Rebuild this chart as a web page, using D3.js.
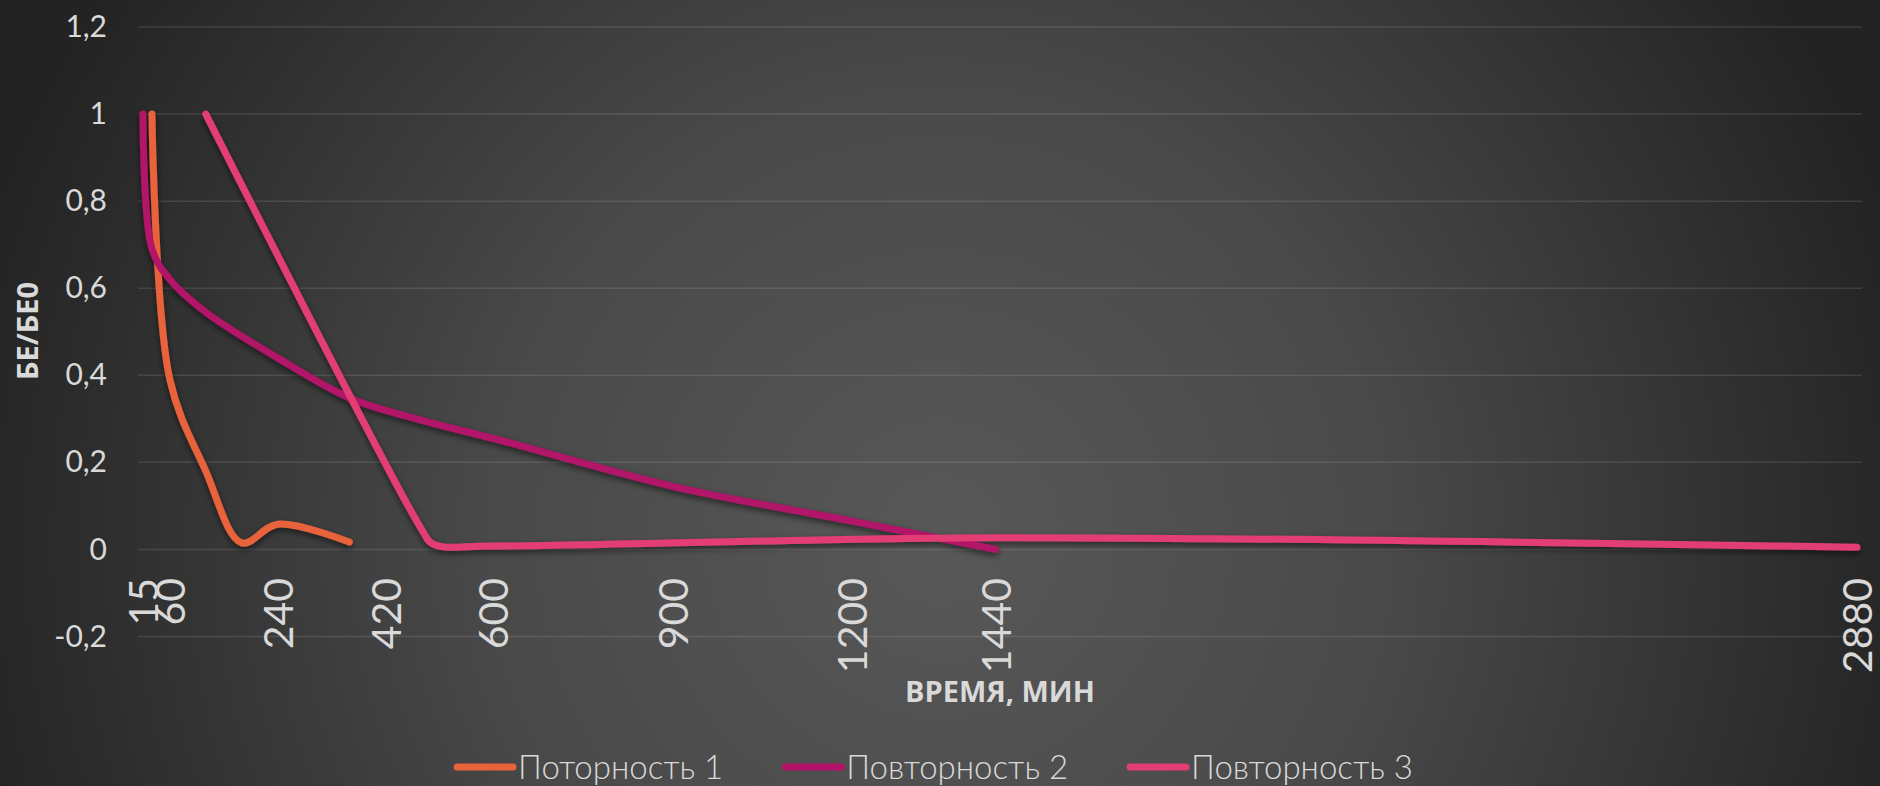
<!DOCTYPE html>
<html>
<head>
<meta charset="utf-8">
<script src="https://cdn.jsdelivr.net/npm/d3@7"></script>
<style>
  html, body { margin: 0; padding: 0; background: #2a2a2a; }
  svg { display: block; }
</style>
</head>
<body>
<svg id="chart" width="1880" height="786"></svg>
<script>
// chart data
var xTicks = [15, 60, 240, 420, 600, 900, 1200, 1440, 2880];
var yTicks = [-0.2, 0, 0.2, 0.4, 0.6, 0.8, 1, 1.2];

var seriesNames = ["Поторность 1", "Повторность 2", "Повторность 3"];
var seriesColors = ["#E8633B", "#B21268", "#E33E74"];

var rep1Time = [30, 60, 120, 180, 240, 360];
var rep1Value = [1, 0.39, 0.18, 0.015, 0.058, 0.017];

var rep2Time = [15, 30, 60, 120, 240, 360, 480, 600, 900, 1200, 1440];
var rep2Value = [1, 0.69, 0.62, 0.545, 0.44, 0.348, 0.297, 0.255, 0.145, 0.065, 0];

var rep3Time = [120, 480, 500, 600, 1440, 2880];
var rep3Value = [1, 0.048, 0.012, 0.008, 0.027, 0.005];

var xTitle = "ВРЕМЯ, МИН";
var yTitle = "БЕ/БЕ0";

drawChart();

function drawChart() {
  var svg = d3.select("#chart");
  var width = 1880, height = 786;
  var lightFont = "Lato, 'Open Sans', sans-serif";
  var boldFont = "'Open Sans', sans-serif";
  var textColor = "#d9d9d9";

  var defs = svg.append("defs");
  var grad = defs.append("radialGradient")
      .attr("id", "bg")
      .attr("gradientUnits", "userSpaceOnUse")
      .attr("cx", 940).attr("cy", 540).attr("r", 1000);
  grad.append("stop").attr("offset", "0").attr("stop-color", "#585858");
  grad.append("stop").attr("offset", "0.45").attr("stop-color", "#494949");
  grad.append("stop").attr("offset", "1").attr("stop-color", "#232323");

  var shadow = defs.append("filter").attr("id", "shadow")
      .attr("x", "-5%").attr("y", "-5%").attr("width", "110%").attr("height", "120%");
  shadow.append("feDropShadow")
      .attr("dx", 0).attr("dy", 3).attr("stdDeviation", 3)
      .attr("flood-color", "#000").attr("flood-opacity", 0.55);

  svg.append("rect").attr("width", width).attr("height", height).attr("fill", "url(#bg)");

  var xScale = d3.scaleLinear().domain([0, 2880]).range([134, 1857]);
  var yScale = d3.scaleLinear().domain([-0.2, 1.2]).range([636.5, 27]);
  var gridLeft = 138, gridRight = 1862;

  // horizontal gridlines
  svg.append("g").selectAll("line")
      .data(yTicks)
      .enter().append("line")
      .attr("x1", gridLeft).attr("x2", gridRight)
      .attr("y1", d => yScale(d)).attr("y2", d => yScale(d))
      .attr("stroke", "rgba(255,255,255,0.11)")
      .attr("stroke-width", 1.5);

  // y axis labels
  var yAxis = d3.axisLeft(yScale)
      .tickValues(yTicks)
      .tickSize(0)
      .tickPadding(0)
      .tickFormat(d => String(Math.round(d * 10) / 10).replace(".", ","));
  var yg = svg.append("g")
      .attr("transform", "translate(107,0)")
      .call(yAxis);
  yg.select(".domain").remove();
  yg.selectAll("text")
      .attr("fill", textColor)
      .style("font-family", lightFont)
      .style("font-weight", 400)
      .style("font-size", "30px");

  // x axis labels (rotated)
  var xAxis = d3.axisBottom(xScale)
      .tickValues(xTicks)
      .tickSize(0)
      .tickFormat(d => String(d));
  var xg = svg.append("g")
      .attr("transform", "translate(0,578)")
      .call(xAxis);
  xg.select(".domain").remove();
  xg.selectAll("text")
      .attr("transform", "rotate(-90)")
      .attr("x", 0).attr("y", 0)
      .attr("dy", "0.36em")
      .style("text-anchor", "end")
      .attr("fill", textColor)
      .style("font-family", lightFont)
      .style("font-weight", 400)
      .style("font-size", "41px");

  // lines
  var allSeries = [
    rep1Time.map((t, i) => [t, rep1Value[i]]),
    rep2Time.map((t, i) => [t, rep2Value[i]]),
    rep3Time.map((t, i) => [t, rep3Value[i]])
  ];
  var line = d3.line()
      .x(d => xScale(d[0]))
      .y(d => yScale(d[1]))
      .curve(d3.curveCatmullRom.alpha(0.5));

  svg.append("g").attr("filter", "url(#shadow)")
      .selectAll("path")
      .data(allSeries)
      .enter().append("path")
      .attr("d", line)
      .attr("fill", "none")
      .attr("stroke", (d, i) => seriesColors[i])
      .attr("stroke-width", 7)
      .attr("stroke-linecap", "round")
      .attr("stroke-linejoin", "round");

  // axis titles
  svg.append("text")
      .attr("x", 1000).attr("y", 702)
      .attr("text-anchor", "middle")
      .attr("fill", textColor)
      .style("font-family", boldFont)
      .style("font-weight", "bold")
      .style("font-size", "29px")
      .text(xTitle);

  svg.append("text")
      .attr("transform", "translate(38,331) rotate(-90)")
      .attr("text-anchor", "middle")
      .attr("fill", textColor)
      .style("font-family", boldFont)
      .style("font-weight", "bold")
      .style("font-size", "29px")
      .text(yTitle);

  // legend
  var legend = svg.append("g");
  var items = legend.selectAll("g")
      .data(seriesNames)
      .enter().append("g");
  items.append("line")
      .attr("x1", 0).attr("x2", 56)
      .attr("y1", 0).attr("y2", 0)
      .attr("stroke", (d, i) => seriesColors[i])
      .attr("stroke-width", 7)
      .attr("stroke-linecap", "round");
  items.append("text")
      .attr("x", 61).attr("y", 12)
      .attr("fill", textColor)
      .style("font-family", lightFont)
      .style("font-weight", 300)
      .style("font-size", "33px")
      .text(d => d);

  var offset = 0, gap = 62;
  var widths = [];
  items.each(function() {
    widths.push(61 + this.querySelector("text").getComputedTextLength());
  });
  var total = d3.sum(widths) + gap * (widths.length - 1);
  var startX = 935 - total / 2;
  items.attr("transform", function(d, i) {
    var x = startX + offset;
    offset += widths[i] + gap;
    return "translate(" + x + ",767)";
  });
}
</script>
</body>
</html>
